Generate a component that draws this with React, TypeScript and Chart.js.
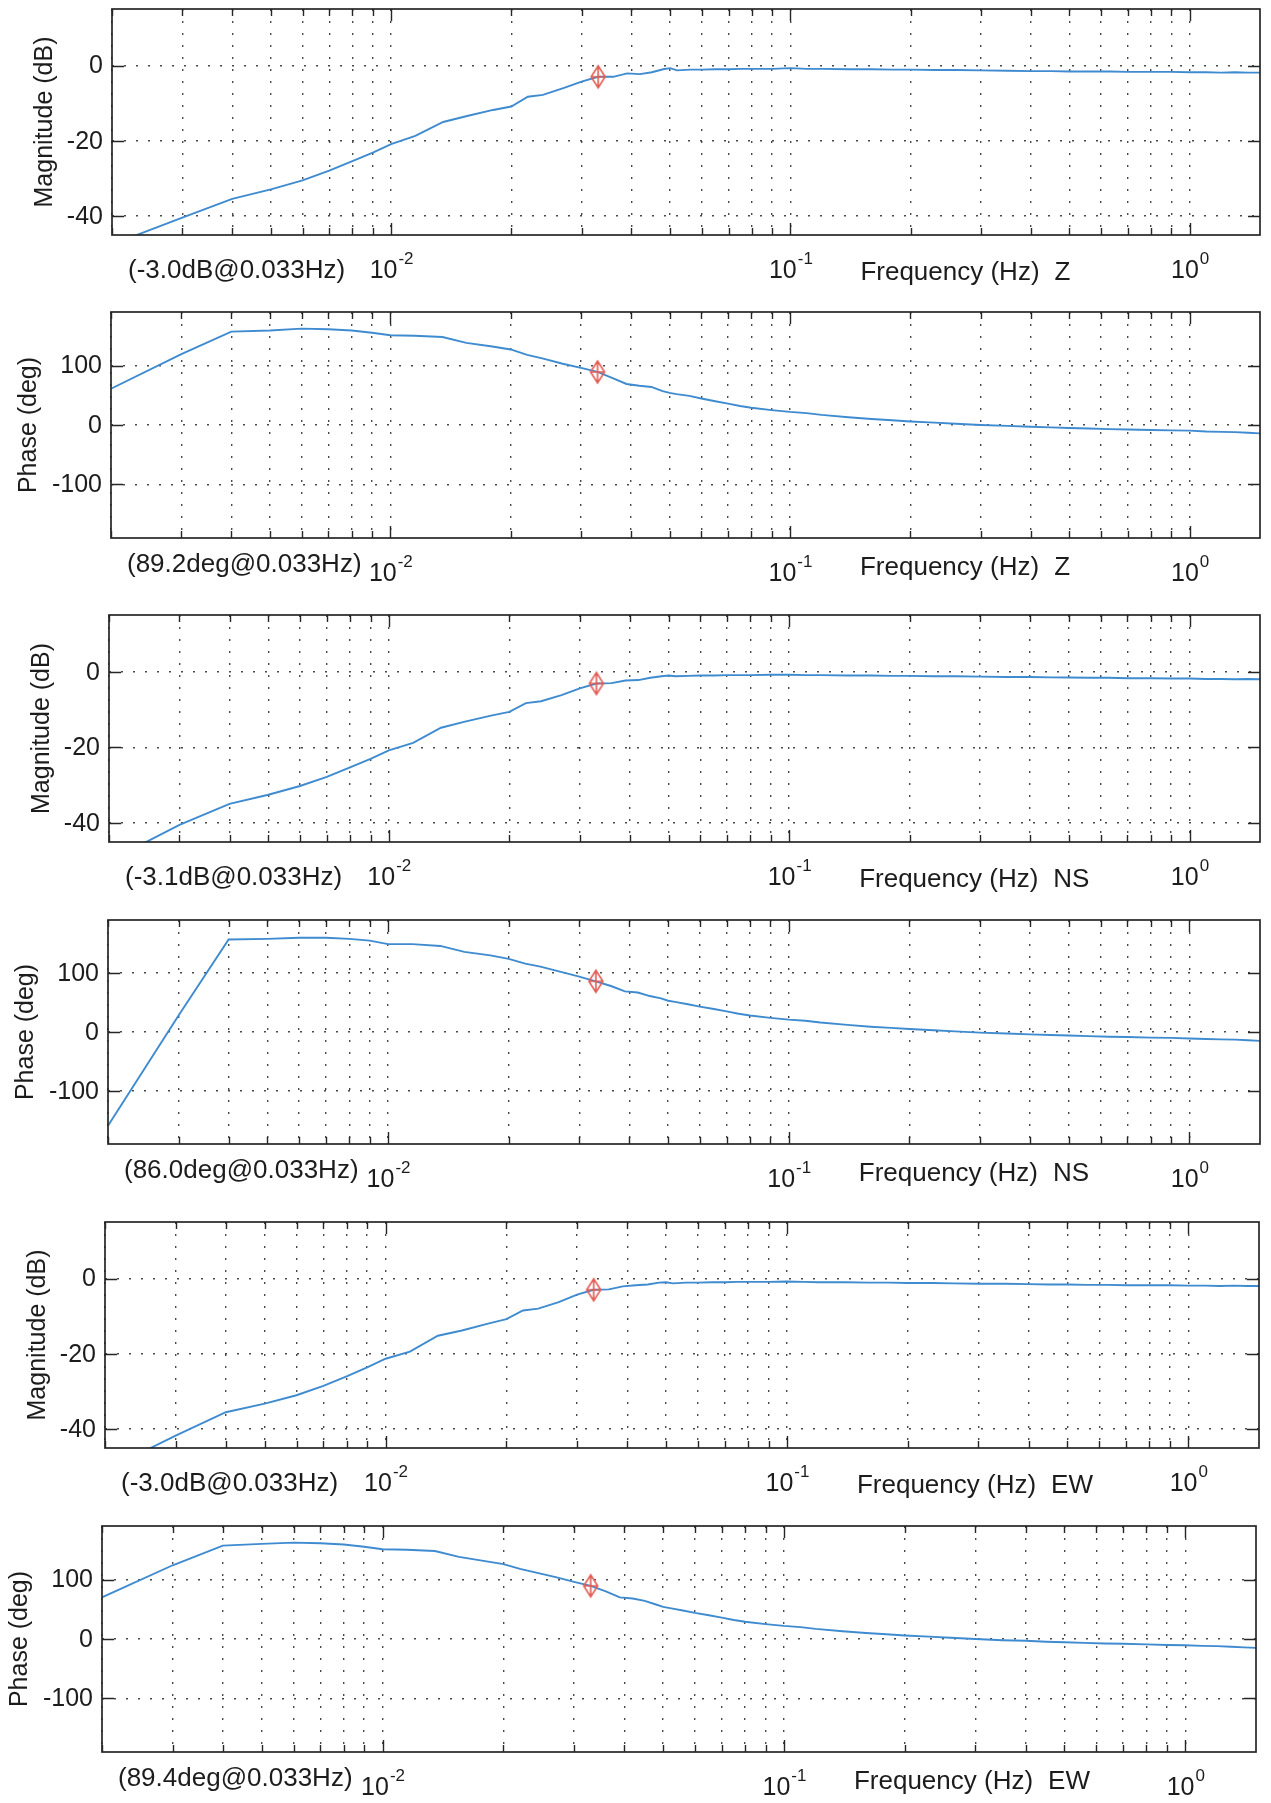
import React, { useEffect, useRef } from 'react';
import { Chart, registerables } from 'chart.js';

Chart.register(...registerables);

// ---------------- data ----------------
const freqs = [
  0.002, 0.003, 0.004, 0.005, 0.006, 0.007, 0.008, 0.009,
  0.01, 0.0115, 0.0135, 0.0155, 0.018, 0.02, 0.022, 0.024, 0.027, 0.03, 0.033, 0.036, 0.039, 0.042, 0.045, 0.048, 0.05, 0.052, 0.056, 0.06, 0.065, 0.07, 0.075, 0.08, 0.09,
  0.1, 0.11, 0.12, 0.14, 0.16, 0.18, 0.2, 0.23, 0.26, 0.3, 0.35, 0.4, 0.45, 0.5, 0.56, 0.63, 0.7, 0.8, 0.9,
  1.0, 1.1, 1.2, 1.3, 1.4, 1.5,
];

const magZ = [
  -47.5, -40.4, -35.4, -32.9, -30.5, -27.9, -25.4, -23.1,
  -20.9, -18.7, -15.0, -13.4, -11.8, -10.9, -8.3, -7.8, -6.0, -4.3, -3.0, -3.0, -2.1, -2.3, -1.8, -1.0, -0.7, -1.3, -1.1, -1.1, -1.0, -1.0, -0.9, -0.9, -0.9,
  -0.7, -0.9, -0.9, -1.0, -1.0, -1.1, -1.1, -1.2, -1.2, -1.3, -1.4, -1.5, -1.5, -1.6, -1.6, -1.6, -1.7, -1.7, -1.7,
  -1.8, -1.8, -1.9, -1.8, -1.9, -1.9,
];

const phaseZ = [
  61, 119, 157, 159, 162, 161, 159, 155,
  151, 150, 148, 138, 132, 127, 118, 112, 103, 96, 89.2, 79, 69, 66, 64, 57, 54, 52, 49, 44.5, 40, 36, 32, 29, 25,
  22, 20, 17, 13, 10, 8, 6, 4, 2, 0, -1.5, -3, -4, -5, -6, -7, -7.5, -8.5, -9,
  -9.5, -11, -11.5, -12, -13, -14,
];

const magNS = [
  -50, -40.5, -34.9, -32.5, -30.2, -27.8, -25.3, -23.0,
  -20.8, -18.8, -14.8, -13.2, -11.6, -10.6, -8.3, -7.8, -6.2, -4.4, -3.1, -3.0, -2.3, -2.2, -1.6, -1.2, -1.0, -1.2, -1.1, -1.0, -1.0, -0.9, -0.9, -0.9, -0.8,
  -0.8, -0.9, -0.9, -1.0, -1.0, -1.1, -1.1, -1.2, -1.2, -1.3, -1.4, -1.4, -1.5, -1.5, -1.6, -1.6, -1.7, -1.7, -1.8,
  -1.8, -1.9, -1.9, -2.0, -1.9, -2.0,
];

const phaseNS = [
  -159, 28, 157, 158, 160, 160, 158, 155,
  149, 149, 146, 136, 130, 124, 116, 111, 102, 94, 86, 78, 69, 67, 61, 57, 53, 51, 47, 43, 39, 35, 31, 28, 24,
  21, 19, 16, 12, 9, 7, 5, 3, 1, -1, -2.5, -4, -5, -6, -7, -8, -8.5, -9.5, -10,
  -11, -12, -12.5, -13, -14, -15,
];

const magEW = [
  -51, -41.7, -35.5, -33.2, -31.0, -28.5, -26.0, -23.6,
  -21.3, -19.4, -15.2, -13.8, -12.0, -10.8, -8.5, -8.0, -6.3, -4.3, -3.0, -2.9, -2.1, -1.8, -1.6, -1.1, -1.0, -1.3, -1.1, -1.1, -1.0, -1.0, -0.9, -0.9, -0.9,
  -0.8, -0.9, -1.0, -1.0, -1.1, -1.1, -1.2, -1.2, -1.3, -1.4, -1.4, -1.5, -1.6, -1.6, -1.7, -1.7, -1.8, -1.8, -1.8,
  -1.9, -1.9, -2.0, -1.9, -2.0, -2.0,
];

const phaseEW = [
  70, 124, 157, 160, 162, 161, 159, 155,
  151, 150, 148, 138, 131, 126, 118, 112, 104, 96, 89.4, 80, 70, 68, 64, 58, 54, 52, 48, 44, 40, 36, 32, 29, 25,
  22, 20, 17, 13, 10, 8, 6, 4, 2, 0, -2, -3, -4.5, -5.5, -6.5, -7.5, -8, -9, -10,
  -10.5, -11.5, -12, -13, -14, -15,
];

const markerFreq = 0.033;
const markerValues = [-3.0, 89.2, -3.1, 86.0, -3.0, 89.4];
const components = ['Z', 'Z', 'NS', 'NS', 'EW', 'EW'];
const magTicks = [-40, -20, 0];
const phaseTicks = [-100, 0, 100];
const decadeStarts = [0.001, 0.01, 0.1, 1];
const FREQ_MIN = 0.002;
const FREQ_MAX = 1.5;
const MAG_MIN = -45;
const MAG_MAX = 15;
const PHASE_MIN = -190;
const PHASE_MAX = 190;

const series = [magZ, phaseZ, magNS, phaseNS, magEW, phaseEW];

// ---------------- layout (page pixels: left, top, right, bottom of each plot box) ----------------
const boxes = [
  [112, 6, 1264, 235],
  [111, 309, 1264, 538],
  [109, 612, 1263, 842],
  [108, 917, 1262, 1144],
  [105, 1219, 1259, 1448],
  [102, 1523, 1256, 1752],
];

const FONT = '"Liberation Sans", Arial, Helvetica, sans-serif';
const LINE_COLOR = '#3f8bd0';
const MARK_COLOR = '#e35d55';
const INK = '#1c1c1c';

function makeMarker(): HTMLCanvasElement {
  const c = document.createElement('canvas');
  c.width = 18;
  c.height = 26;
  const g = c.getContext('2d')!;
  g.strokeStyle = MARK_COLOR;
  g.lineWidth = 1.6;
  g.beginPath();
  g.moveTo(9, 2);
  g.lineTo(16, 13);
  g.lineTo(9, 24);
  g.lineTo(2, 13);
  g.closePath();
  g.moveTo(2, 13);
  g.lineTo(16, 13);
  g.moveTo(9, 2);
  g.lineTo(9, 24);
  g.stroke();
  return c;
}

function buildFreqTicks() {
  const out: { value: number; major: boolean }[] = [];
  for (const d of decadeStarts) {
    for (let m = 1; m <= 9; m++) {
      const v = +(d * m).toPrecision(6);
      if (v >= FREQ_MIN - 1e-12 && v <= FREQ_MAX + 1e-12) out.push({ value: v, major: m === 1 });
    }
  }
  return out;
}

const bodePlugin = {
  id: 'bode',
  afterDraw(chart: any, _args: any, o: any) {
    const { ctx, chartArea: a } = chart;
    const x = chart.scales.x;
    const y = chart.scales.y;
    ctx.save();
    ctx.setLineDash([]);
    // frame
    ctx.strokeStyle = '#262626';
    ctx.lineWidth = 1.7;
    ctx.strokeRect(a.left, a.top, a.right - a.left, a.bottom - a.top);
    // inner tick marks
    ctx.beginPath();
    for (const tk of x.ticks) {
      const px = Math.round(x.getPixelForValue(tk.value)) + 0.5;
      const len = tk.major ? 12 : 7;
      ctx.moveTo(px, a.bottom);
      ctx.lineTo(px, a.bottom - len);
      ctx.moveTo(px, a.top);
      ctx.lineTo(px, a.top + len);
    }
    for (const tk of y.ticks) {
      const py = Math.round(y.getPixelForValue(tk.value)) + 0.5;
      ctx.moveTo(a.left, py);
      ctx.lineTo(a.left + 12, py);
      ctx.moveTo(a.right, py);
      ctx.lineTo(a.right - 12, py);
    }
    ctx.lineWidth = 1.4;
    ctx.stroke();

    ctx.fillStyle = INK;
    ctx.font = `25px ${FONT}`;
    ctx.textAlign = 'right';
    ctx.textBaseline = 'middle';
    for (const tk of y.ticks) {
      ctx.fillText(String(tk.value), a.left - 9, y.getPixelForValue(tk.value) + 1);
    }
    // y title
    ctx.save();
    ctx.translate(a.left - o.titleGap, (a.top + a.bottom) / 2);
    ctx.rotate(-Math.PI / 2);
    ctx.textAlign = 'center';
    ctx.textBaseline = 'middle';
    ctx.fillText(o.title, 0, 0);
    ctx.restore();

    // decade labels 10^n
    ctx.textAlign = 'left';
    ctx.textBaseline = 'alphabetic';
    for (const tk of x.ticks) {
      if (!tk.major) continue;
      const exp = String(Math.round(Math.log10(tk.value)));
      ctx.font = `25px ${FONT}`;
      const w1 = ctx.measureText('10').width;
      ctx.font = `17px ${FONT}`;
      const w2 = ctx.measureText(exp).width;
      const px = x.getPixelForValue(tk.value);
      const start = px - (w1 + w2) / 2;
      ctx.font = `25px ${FONT}`;
      ctx.fillText('10', start, a.bottom + o.tickBase);
      ctx.font = `17px ${FONT}`;
      ctx.fillText(exp, start + w1 + 1, a.bottom + o.tickBase - 14);
    }

    ctx.font = `26px ${FONT}`;
    ctx.fillText(o.note, a.left + 16, a.bottom + o.noteBase);
    const fx = x.getPixelForValue(0.1) + 70;
    const label = 'Frequency (Hz)';
    ctx.fillText(label, fx, a.bottom + o.freqBase);
    ctx.fillText(o.comp, fx + ctx.measureText(label).width + 15, a.bottom + o.freqBase);
    ctx.restore();
  },
};

function BodePanel({ index }: { index: number }) {
  const ref = useRef<HTMLCanvasElement>(null);
  const [l, t, r, b] = boxes[index];
  const cTop = t - 8;
  const cBottom = b + 58;
  const width = 1271;
  const height = cBottom - cTop;

  useEffect(() => {
    const isMag = index % 2 === 0;
    const values = series[index];
    const mv = markerValues[index];
    const note = isMag
      ? `(${mv.toFixed(1)}dB@${markerFreq}Hz)`
      : `(${mv.toFixed(1)}deg@${markerFreq}Hz)`;
    const yTicks = isMag ? magTicks : phaseTicks;
    const freqTicks = buildFreqTicks();
    const marker = makeMarker();

    const chart = new Chart(ref.current!, {
      type: 'line',
      data: {
        datasets: [
          {
            data: [{ x: markerFreq, y: mv }],
            showLine: false,
            pointStyle: marker as any,
            pointRadius: 10,
            borderColor: MARK_COLOR,
            backgroundColor: MARK_COLOR,
            clip: false as any,
          },
          {
            data: freqs.map((f, i) => ({ x: f, y: values[i] })),
            borderColor: LINE_COLOR,
            borderWidth: 1.9,
            pointRadius: 0,
            fill: false,
            tension: 0,
          },
        ],
      },
      options: {
        animation: false,
        responsive: false,
        devicePixelRatio: 1,
        events: [],
        layout: {
          padding: { left: l, top: t - cTop, right: width - r, bottom: cBottom - b },
        },
        scales: {
          x: {
            type: 'logarithmic',
            min: FREQ_MIN,
            max: FREQ_MAX,
            afterBuildTicks: (s: any) => {
              s.ticks = freqTicks.map((tk) => ({ ...tk }));
            },
            afterFit: (s: any) => {
              s.height = 0;
            },
            ticks: { display: false },
            grid: { color: '#4a4a4a', lineWidth: 1.4, drawTicks: false },
            border: { display: false, dash: [2, 10] },
          },
          y: {
            type: 'linear',
            min: isMag ? MAG_MIN : PHASE_MIN,
            max: isMag ? MAG_MAX : PHASE_MAX,
            afterBuildTicks: (s: any) => {
              s.ticks = yTicks.map((v) => ({ value: v }));
            },
            afterFit: (s: any) => {
              s.width = 0;
            },
            ticks: { display: false },
            grid: { color: '#4a4a4a', lineWidth: 1.4, drawTicks: false },
            border: { display: false, dash: [2, 10] },
          },
        },
        plugins: {
          legend: { display: false },
          tooltip: { enabled: false },
          bode: {
            title: isMag ? 'Magnitude (dB)' : 'Phase (deg)',
            titleGap: isMag ? 67 : 82,
            note,
            comp: components[index],
            tickBase: 43,
            noteBase: isMag ? 43 : 34,
            freqBase: isMag ? 45 : 37,
          },
        } as any,
      },
      plugins: [bodePlugin],
    } as any);
    return () => chart.destroy();
  }, [index]);

  return (
    <canvas
      ref={ref}
      width={width}
      height={height}
      style={{ position: 'absolute', left: 0, top: cTop, width, height, display: 'block' }}
    />
  );
}

export default function App() {
  return (
    <div
      style={{
        position: 'absolute',
        left: 0,
        top: 0,
        width: 1271,
        height: 1803,
        background: '#ffffff',
        overflow: 'hidden',
      }}
    >
      {series.map((_, i) => (
        <BodePanel key={i} index={i} />
      ))}
    </div>
  );
}
